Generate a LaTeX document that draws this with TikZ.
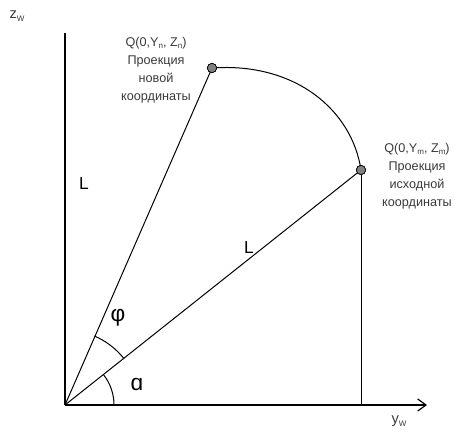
\documentclass[tikz,border=0pt]{standalone}
\usepackage{fontspec}
\setmainfont{Liberation Sans}
\usepackage{tikz}
\usetikzlibrary{arrows.meta,positioning}
\definecolor{labelgray}{HTML}{3A3A3A}
\definecolor{dotgray}{HTML}{808080}
\tikzset{
  axis/.style={line width=.9pt},
  ray/.style={line width=.75pt},
  pt/.style={circle,draw=black,fill=dotgray,line width=.5pt,minimum size=7pt,inner sep=0pt},
  lbl/.style={text=labelgray,align=center,font=\fontsize{9.5}{13.5}\selectfont},
  axlbl/.style={text=labelgray,font=\fontsize{11}{11}\selectfont},
  angl/.style={font=\fontsize{17}{17}\selectfont},
}
\newcommand{\lowsub}[1]{\raisebox{-.35ex}{\fontsize{6}{6}\selectfont #1}}

\begin{document}
\begin{tikzpicture}[x=0.75pt,y=-0.75pt]
    \useasboundingbox (0,0) rectangle (463,431);
    \coordinate (O) at (65,405);
    \coordinate (ztop) at (65,33);
    \coordinate (yend) at (427,405);
    \node[pt] (new) at (212,68) {};
    \node[pt] (old) at (361,170) {};
    \coordinate (foot) at (361,405);
    % axes
    \draw[axis] (O)--(ztop);
    \draw[axis,-{Straight Barb[length=2.2mm,width=3.2mm]}] (O)--(yend);
    \node[axlbl] (zw) at (17,16) {z\lowsub{W}};
    \node[axlbl] (yw) at (399,421) {y\lowsub{W}};
    % rays, curve and drop line
    \draw[ray] (O)--(new.center);
    \draw[ray] (O)--(old.center);
    \draw[ray] (old.center)--(foot);
    \draw[ray] (new.center) .. controls (295,62) and (352,110) .. (old.center);
    \node[pt] at (new) {};
    \node[pt] at (old) {};
    % angles
    \draw[ray] ([shift={(-67:75)}]O) arc[start angle=-67,end angle=-38,radius=75];
    \draw[ray] ([shift={(-38:49)}]O) arc[start angle=-38,end angle=0,radius=49];
    \node[angl] (phi) at (118,318) {φ};
    \node[angl] (alpha) at (137,385) {ɑ};
    \node[font=\fontsize{13}{13}\selectfont] (L1) at (84,184) {L};
    \node[font=\fontsize{13}{13}\selectfont] (L2) at (249,248) {L};
    % labels
    \node[lbl] (newlbl) at (156,70) {Q(0,Y\lowsub{n}, Z\lowsub{n})\\Проекция\\новой\\координаты};
    \node[lbl] (oldlbl) at (417,176) {Q(0,Y\lowsub{m}, Z\lowsub{m})\\Проекция\\исходной\\координаты};
\end{tikzpicture}
\end{document}
